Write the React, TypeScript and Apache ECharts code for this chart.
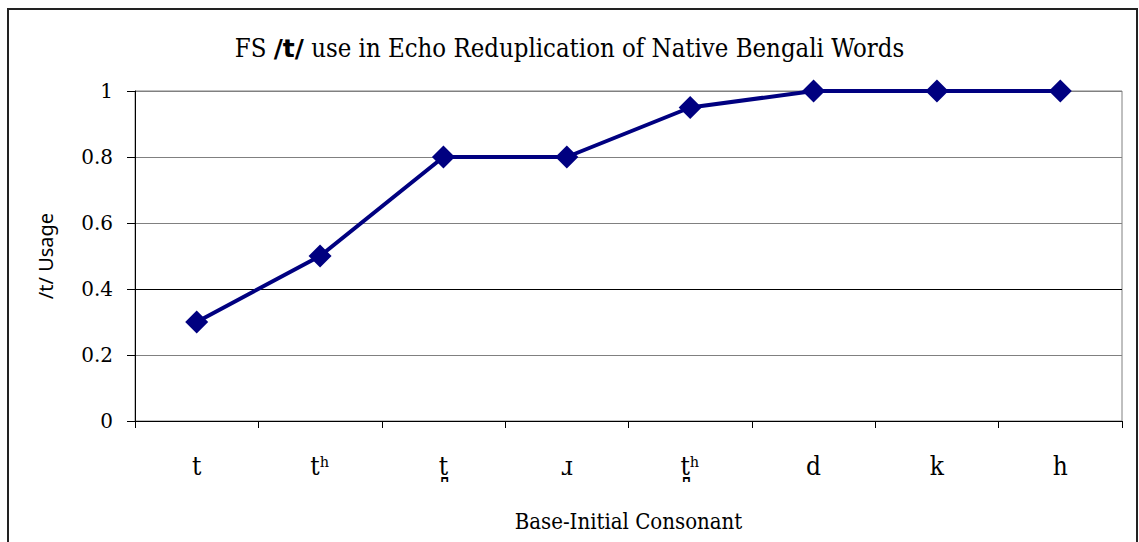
import React, { useEffect, useRef } from "react";
import * as echarts from "echarts";

const categories = ["t", "tʰ", "t̪", "ɹ", "t̪ʰ", "d", "k", "h"];
const usage = [0.3, 0.5, 0.8, 0.8, 0.95, 1, 1, 1];
const titleText = "FS {b|/t/} use in Echo Reduplication of Native Bengali Words";
const xName = "Base-Initial Consonant";
const yName = "/t/ Usage";

export default function App() {
  const ref = useRef<HTMLDivElement>(null);
  useEffect(() => {
    const chart = echarts.init(ref.current!, null, { renderer: "svg" });
    const cond = "'DejaVu Serif Condensed', 'DejaVu Serif', serif";
    chart.setOption({
      animation: false,
      backgroundColor: "#ffffff",
      title: {
        text: titleText,
        left: "center",
        top: 30,
        textStyle: {
          fontFamily: cond,
          fontSize: 25.5,
          fontWeight: "normal",
          color: "#000",
          rich: {
            b: {
              fontFamily: "'DejaVu Sans', sans-serif",
              fontWeight: "bold",
              fontSize: 25,
              color: "#000",
            },
          },
        },
      },
      graphic: [
        {
          type: "rect",
          shape: { x: 8, y: 9, width: 1129, height: 600 },
          style: { fill: "none", stroke: "#222", lineWidth: 2 },
          silent: true,
        },
      ],
      grid: {
        left: 135,
        right: 17,
        top: 91,
        bottom: 121,
        show: true,
        borderColor: "#808080",
        borderWidth: 1,
        backgroundColor: "#fff",
      },
      xAxis: {
        type: "category",
        data: categories,
        boundaryGap: true,
        name: xName,
        nameLocation: "middle",
        nameGap: 89,
        nameTextStyle: { fontFamily: cond, fontSize: 22, color: "#000" },
        axisLine: { show: true, lineStyle: { color: "#000", width: 1 } },
        axisTick: { show: true, length: 7, lineStyle: { color: "#000" } },
        axisLabel: { fontFamily: cond, fontSize: 26, color: "#000", margin: 32 },
        splitLine: { show: false },
      },
      yAxis: {
        type: "value",
        min: 0,
        max: 1,
        interval: 0.2,
        name: yName,
        nameLocation: "middle",
        nameGap: 80,
        nameRotate: 90,
        nameTextStyle: { fontFamily: "'Noto Sans', sans-serif", fontSize: 20, color: "#000" },
        axisLine: { show: true, lineStyle: { color: "#000", width: 1 } },
        axisTick: { show: true, inside: false, length: 8, lineStyle: { color: "#000" } },
        axisLabel: { fontFamily: "'DejaVu Serif', serif", fontSize: 20, color: "#000", margin: 22 },
        splitLine: {
          show: true,
          lineStyle: {
            color: ["#808080", "#808080", "#000000", "#808080", "#808080", "#808080"],
            width: 1,
          },
        },
      },
      series: [
        {
          type: "line",
          data: usage,
          symbol: "diamond",
          symbolSize: 23,
          lineStyle: { color: "#000080", width: 4 },
          itemStyle: { color: "#000080" },
        },
      ],
    });
    return () => chart.dispose();
  }, []);
  return (
    <div
      ref={ref}
      style={{ position: "fixed", left: 0, top: 0, width: 1139, height: 542 }}
    />
  );
}
